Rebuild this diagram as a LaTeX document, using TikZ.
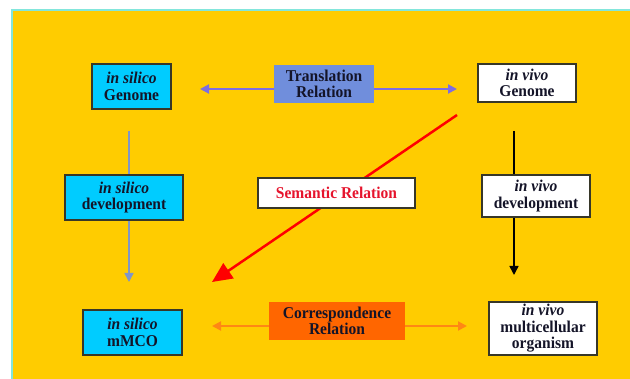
\documentclass[tikz,border=0pt]{standalone}
\usepackage{fontspec}
\setmainfont{Liberation Serif}[FakeStretch=0.94]
\usetikzlibrary{arrows.meta}
\definecolor{panelyellow}{RGB}{255,204,0}
\definecolor{paneledge}{RGB}{130,230,220}
\definecolor{silicocyan}{RGB}{0,204,255}
\definecolor{transblue}{RGB}{112,142,220}
\definecolor{transline}{RGB}{125,110,225}
\definecolor{corrorange}{RGB}{255,102,0}
\definecolor{corrline}{RGB}{255,135,20}
\definecolor{greyblue}{RGB}{128,150,200}
\definecolor{semred}{RGB}{230,20,45}
\definecolor{boxline}{RGB}{55,55,40}
\definecolor{boxtext}{RGB}{20,20,40}
\begin{document}
\begin{tikzpicture}[x=1pt, y=-1pt,
  boxstyle/.style={draw=boxline, line width=1.2pt, inner sep=0pt, align=center,
    font=\fontsize{16.5}{16.5}\selectfont\bfseries, text=boxtext},
  silicostyle/.style={boxstyle, fill=silicocyan},
  vivostyle/.style={boxstyle, fill=white},
  relstyle/.style={boxstyle, draw=none}]
  \useasboundingbox (0,0) rectangle (630,379);
  \fill[white] (0,0) rectangle (630,379);
  \fill[panelyellow] (12,10) rectangle (630,379);
  \draw[paneledge, line width=1.2pt] (12,379) -- (12,10) -- (630,10);

  % free ends of the connectors
  \coordinate (tl) at (200,89);
  \coordinate (tr) at (457,89);
  \coordinate (cl) at (212,326);
  \coordinate (cr) at (467,326);
  \coordinate (stop) at (129,131);
  \coordinate (stip) at (129,282);
  \coordinate (vtop) at (514,131);
  \coordinate (vtip) at (514,275);
  \coordinate (rtop) at (457,115);
  \coordinate (rtip) at (212,282);

  \draw[transline, line width=2pt, {Triangle[length=9pt,width=9pt]}-{Triangle[length=9pt,width=9pt]}] (tl) -- (tr);
  \draw[corrline, line width=2pt, {Triangle[length=9pt,width=9pt]}-{Triangle[length=9pt,width=9pt]}] (cl) -- (cr);
  \draw[greyblue, line width=1.5pt, -{Triangle[length=9pt,width=9pt]}] (stop) -- (stip);
  \draw[black, line width=1.5pt, -{Triangle[length=9pt,width=9pt]}] (vtop) -- (vtip);
  \draw[red, line width=2.5pt, -{Triangle[length=20pt,width=18pt]}] (rtop) -- (rtip);

  \node[silicostyle, minimum width=79pt, minimum height=45pt] (sgen) at (131.5,86.5) {\textit{in silico}\\Genome};
  \node[relstyle, fill=transblue, minimum width=100pt, minimum height=38pt] (trans) at (324,84) {Translation\\Relation};
  \node[vivostyle, minimum width=98pt, minimum height=38pt] (vgen) at (527,83) {\textit{in vivo}\\Genome};

  \node[silicostyle, minimum width=118pt, minimum height=45pt] (sdev) at (124,197.5) {\textit{in silico}\\development};
  \node[vivostyle, text=semred, minimum width=157pt, minimum height=30pt] (sem) at (336.5,193) {Semantic Relation};
  \node[vivostyle, minimum width=108pt, minimum height=42pt] (vdev) at (536,196) {\textit{in vivo}\\development};

  \node[silicostyle, minimum width=99pt, minimum height=45pt] (smco) at (132.5,332.5) {\textit{in silico}\\mMCO};
  \node[relstyle, fill=corrorange, minimum width=136pt, minimum height=38pt] (corr) at (337,321) {Correspondence\\Relation};
  \node[vivostyle, minimum width=108pt, minimum height=53pt] (vmco) at (543,328.5) {\textit{in vivo}\\multicellular\\organism};
\end{tikzpicture}
\end{document}
